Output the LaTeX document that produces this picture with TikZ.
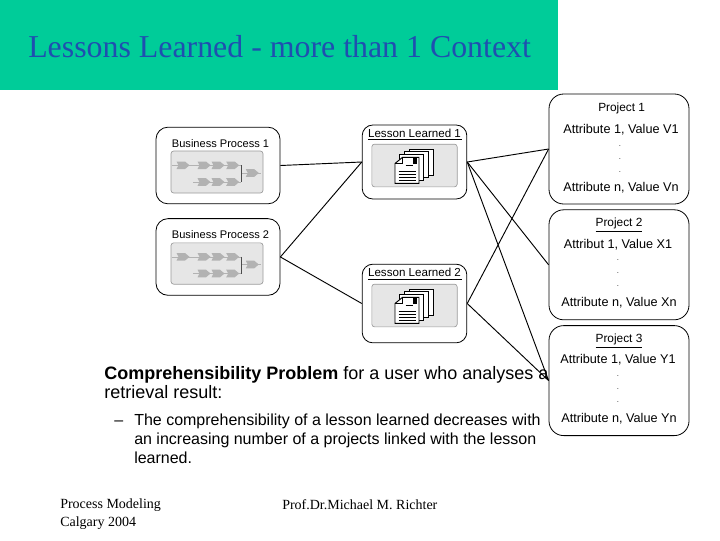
\documentclass[tikz,border=0pt]{standalone}
\usepackage{xcolor}
\usepackage{fontspec}
\setmainfont{Liberation Serif}
\setsansfont{Liberation Sans}
\usepackage{tikz}
\usetikzlibrary{positioning}
\definecolor{headfill}{HTML}{00CC99}
\definecolor{headtext}{HTML}{1F4FB0}
\definecolor{panelfill}{HTML}{E6E6E6}
\definecolor{panelline}{HTML}{9A9A9A}
\definecolor{chevfill}{HTML}{B2B2B2}

\begin{document}
\begin{tikzpicture}[
  x=0.75pt, y=-0.75pt,
  bizbox/.style={draw, rounded corners=9pt, minimum width=93pt, minimum height=57.5pt, inner sep=0pt, line width=0.6pt},
  lessonbox/.style={draw, rounded corners=8pt, minimum width=78.5pt, inner sep=0pt, line width=0.6pt},
  projbox/.style={draw, rounded corners=11pt, minimum width=105pt, minimum height=82.5pt, inner sep=0pt, line width=0.6pt},
  panel/.style={draw=panelline, fill=panelfill, rounded corners=2pt, inner sep=0pt, line width=0.5pt},
  boxtitle/.style={font=\sffamily\fontsize{8.3}{10}\selectfont, inner sep=0pt},
  lessontitle/.style={font=\sffamily\fontsize{8.7}{10}\selectfont, inner sep=0pt},
  projtitle/.style={font=\sffamily\fontsize{8.9}{10}\selectfont, inner sep=0pt},
  attr/.style={font=\sffamily\fontsize{9.5}{10}\selectfont, inner sep=0pt, yshift=-0.75pt},
  dotrow/.style={font=\sffamily\fontsize{7}{9.6}\selectfont, align=center, inner sep=0pt, text=black!60},
  bodytext/.style={font=\sffamily\fontsize{13.5}{14.25}\selectfont, align=left, inner sep=0pt},
  subtext/.style={font=\sffamily\fontsize{12}{14.25}\selectfont, align=left, inner sep=0pt},
  foot/.style={font=\fontsize{10.5}{12.8}\selectfont, align=left, inner sep=0pt},
  link/.style={line width=0.7pt},
  chev/.pic={\fill[chevfill] (-6.5,-3.8) -- (2,-3.8) -- (6.5,0) -- (2,3.8) -- (-6.5,3.8) -- (-4.5,0) -- cycle;},
  procflow/.pic={
    \draw[chevfill, line width=0.4pt] (-45,-6.7) -- (24,-6.7);
    \draw[chevfill, line width=0.4pt] (-24,10) -- (24,10);
    \draw[chevfill, line width=0.4pt] (24,1) -- (44,1);
    \draw[black!70, line width=0.4pt] (24.7,-6.7) -- (24.7,10);
    \foreach \cx/\cy in {-34/-6.7, -13/-6.7, 1/-6.7, 15.7/-6.7, -13/10, 1/10, 15.7/10, 35.3/1}
      \pic at (\cx,\cy) {chev};
  },
  sheet/.pic={\draw[fill=white, line width=0.7pt] (-19.5,-8.2) rectangle (4.5,17.8);},
  docstack/.pic={
    \foreach \ox/\oy in {14.3/-8.3, 9.5/-5.5, 4.8/-2.8}
      \pic at (\ox,\oy) {sheet};
    \draw[fill=white, line width=0.7pt] (-19.5,-2) -- (-12,-8.2) -- (4.5,-8.2) -- (4.5,17.8) -- (-19.5,17.8) -- cycle;
    \draw[line width=0.7pt] (-19.5,-2) -- (-12,-2) -- (-12,-8.2);
    \fill (-1.5,-8) rectangle (2.5,-1.5);
    \draw[line width=0.5pt] (-9,0) -- (-2,0);
    \foreach \ly in {6,8.7,11.7,14.4}
      \draw[line width=0.5pt] (-16,\ly) -- (1.5,\ly);
  }
]
  \useasboundingbox (0,0) rectangle (720,540);

  % heading band
  \fill[headfill] (0,0) rectangle (558,90);
  \node[anchor=base west, inner sep=0pt, text=headtext, font=\fontsize{23.9}{26}\selectfont] (heading) at (28,57) {Lessons Learned - more than 1 Context};

  % business processes
  \node[bizbox] (bp1) at (218,165.5) {};
  \node[bizbox, below=10.5pt of bp1] (bp2) {};
  \node[boxtitle, below=9pt of bp1.north, xshift=1.9pt] (bp1title) {Business Process 1};
  \node[boxtitle, below=9pt of bp2.north, xshift=1.9pt] (bp2title) {Business Process 2};
  \node[panel, minimum width=69pt, minimum height=31.5pt] (bp1flow) at (217,172) {};
  \node[panel, minimum width=69pt, minimum height=31pt] (bp2flow) at (217,263.5) {};
  \pic at (bp1flow) {procflow};
  \pic at (bp2flow) {procflow};

  % lessons learned
  \node[lessonbox, minimum height=55.5pt] (ll1) at (414.5,162) {};
  \node[lessonbox, minimum height=59pt] (ll2) at (414.5,303.5) {};
  \node[lessontitle, below=3.3pt of ll1.north] (ll1title) {Lesson Learned 1};
  \node[lessontitle, below=3.3pt of ll2.north] (ll2title) {Lesson Learned 2};
  \draw[line width=0.4pt] (368,139) -- (462,139);
  \draw[line width=0.4pt] (368,279) -- (462,279);
  \node[panel, minimum width=64pt, minimum height=32pt] (ll1doc) at (414.5,165.5) {};
  \node[panel, minimum width=64pt, minimum height=32pt] (ll2doc) at (414.5,305.5) {};
  \pic at (ll1doc) {docstack};
  \pic at (ll2doc) {docstack};

  % projects
  \node[projbox] (pr1) at (619,149) {};
  \node[projbox, below=3.75pt of pr1] (pr2) {};
  \node[projbox, below=3.75pt of pr2] (pr3) {};
  \node[projtitle, below=6.5pt of pr1.north, xshift=2pt] (pr1title) {Project 1};
  \node[projtitle, below=6.5pt of pr2.north] (pr2title) {\underline{Project 2}};
  \node[projtitle, below=6.5pt of pr3.north] (pr3title) {\underline{Project 3}};
  \node[attr] (pr1first) at (621,129) {Attribute 1, Value V1};
  \node[dotrow] (pr1dots) at (620,159) {.\\.\\.};
  \node[attr] (pr1last) at (621,187) {Attribute n, Value Vn};
  \node[attr] (pr2first) at (618,244) {Attribut 1, Value X1};
  \node[dotrow] (pr2dots) at (618,273) {.\\.\\.};
  \node[attr] (pr2last) at (619,302) {Attribute n, Value Xn};
  \node[attr] (pr3first) at (618,359) {Attribute 1, Value Y1};
  \node[dotrow] (pr3dots) at (618,389) {.\\.\\.};
  \node[attr] (pr3last) at (619,418) {Attribute n, Value Yn};

  \draw[link] (bp1.east) -- (ll1.west);
  \draw[link] (bp2.east) -- (ll1.west);
  \draw[link] (bp2.east) -- (ll2.west);
  \draw[link] (ll1.east) -- (pr1.west);
  \draw[link] (ll1.east) -- (pr2.west);
  \draw[link] (ll1.east) -- (pr3.west);
  \draw[link] (ll2.east) -- (pr1.west);
  \draw[link] (ll2.east) -- (pr3.west);

  % text below
  \node[bodytext, anchor=north west] (problem) at (104,366.4) {\textbf{Comprehensibility Problem} for a user who analyses a\\retrieval result:};
  \node[subtext, anchor=north west] (effect) at (134,413.3) {The comprehensibility of a lesson learned decreases with\\an increasing number of a projects linked with the lesson\\learned.};
  \node[subtext, anchor=base west] (effectdash) at (114,425) {--};

  % footer
  \node[foot, anchor=north west] (footleft) at (60,499) {Process Modeling\\Calgary 2004};
  \node[foot, anchor=base west] (footmid) at (282,509.5) {Prof.Dr.Michael M. Richter};
\end{tikzpicture}
\end{document}
